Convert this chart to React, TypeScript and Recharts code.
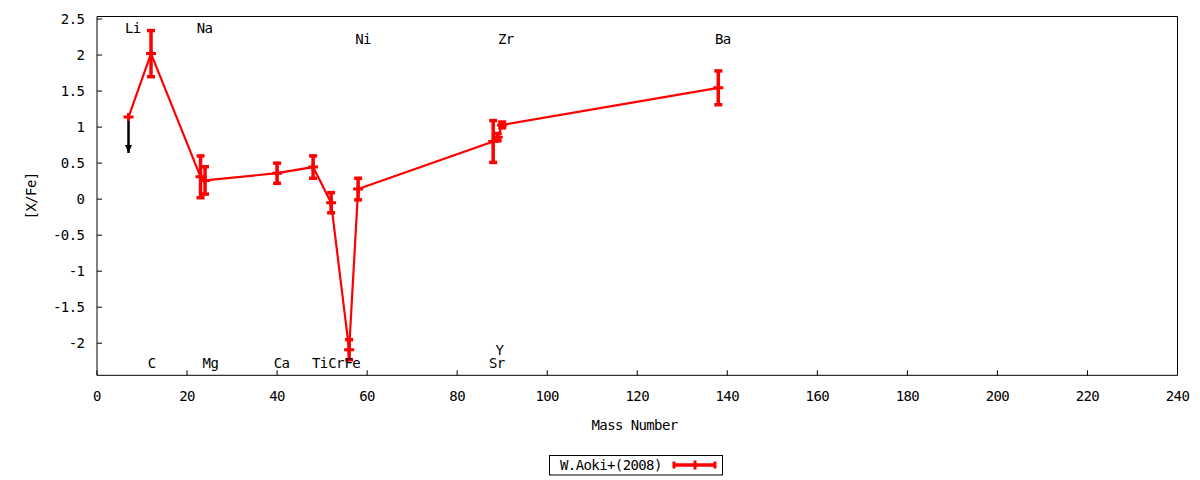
import React from 'react';
import { ComposedChart, Line, Scatter, XAxis, YAxis, ErrorBar, Legend } from 'recharts';

// ---- data ----
const massNumbers = [7, 12, 23, 24, 40, 48, 52, 56, 58, 88, 89, 90, 138];
const abundances = [1.14, 2.02, 0.31, 0.26, 0.36, 0.445, -0.05, -2.09, 0.14, 0.8, 0.86, 1.03, 1.545];
const abundanceErrors = [0, 0.32, 0.29, 0.19, 0.14, 0.155, 0.14, 0.14, 0.15, 0.29, 0.05, 0.04, 0.235];

const liLimitMass = [7, 7];
const liLimitValues = [1.14, 0.64];

const elementNames = ['Li', 'Na', 'Ni', 'Zr', 'Ba', 'C', 'Mg', 'Ca', 'Ti', 'Cr', 'Fe', 'Sr', 'Y'];
const elementLabelX = [7.95, 23.9, 59.1, 90.8, 139.0, 12.15, 25.2, 41.0, 49.5, 53.1, 56.7, 88.8, 89.4];
const elementLabelY = [2.31, 2.31, 2.16, 2.16, 2.16, -2.35, -2.35, -2.35, -2.35, -2.35, -2.35, -2.35, -2.16];

const xTicks = [0, 20, 40, 60, 80, 100, 120, 140, 160, 180, 200, 220, 240];
const yTicks = [-2, -1.5, -1, -0.5, 0, 0.5, 1, 1.5, 2, 2.5];
const xDomain = [0, 240];
const yDomain = [-2.445, 2.535];

const seriesName = 'W.Aoki+(2008)';
const xTitle = 'Mass Number';
const yTitle = '[X/Fe]';

// ---- derived tables ----
const mainData = massNumbers.map((x, i) => ({ x, y: abundances[i], err: abundanceErrors[i] }));
const arrowData = liLimitMass.map((x, i) => ({ x, y: liLimitValues[i] }));
const labelData = elementNames.map((name, i) => ({ name, x: elementLabelX[i], y: elementLabelY[i] }));

const FONT = '"DejaVu Sans Mono", monospace';
const RED = '#ff0000';
const tickStyle = { fill: '#000', fontSize: 14, fontFamily: FONT };

const PlusDot = (p: any) => {
  const { cx, cy, index } = p;
  if (cx == null || cy == null) return <g key={`pd-${index}`} />;
  return (
    <g key={`pd-${index}`}>
      <line x1={cx - 5} y1={cy} x2={cx + 5} y2={cy} stroke={RED} strokeWidth={3} />
      <line x1={cx} y1={cy - 4} x2={cx} y2={cy + 4} stroke={RED} strokeWidth={3} />
    </g>
  );
};

const ArrowDot = (p: any) => {
  const { cx, cy, index } = p;
  if (index !== 1 || cx == null) return <g key={`ad-${index}`} />;
  return (
    <polygon
      key={`ad-${index}`}
      points={`${cx - 3.5},${cy - 8} ${cx + 3.5},${cy - 8} ${cx},${cy}`}
      fill="#000"
    />
  );
};

const LabelText = (p: any) => (
  <text
    x={p.cx}
    y={p.cy}
    textAnchor="middle"
    fontSize={14}
    fontFamily={FONT}
    fill="#000"
  >
    {p.payload.name}
  </text>
);

const XTitle = (p: any) => {
  const vb = p.viewBox || {};
  return (
    <text x={vb.x + vb.width / 2 - 2.7} y={vb.y + 54.7} textAnchor="middle" fontSize={14} fontFamily={FONT} fill="#000">
      {xTitle}
    </text>
  );
};

const YTitle = (p: any) => {
  const vb = p.viewBox || {};
  const cx = vb.x + vb.width - 65.7;
  const cy = vb.y + vb.height / 2;
  return (
    <text
      x={cx}
      y={cy}
      transform={`rotate(-90 ${cx} ${cy})`}
      textAnchor="middle"
      dominantBaseline="central"
      fontSize={14}
      fontFamily={FONT}
      fill="#000"
    >
      {yTitle}
    </text>
  );
};

const renderLegend = () => (
  <svg width={175} height={21} style={{ display: 'block' }}>
    <rect x={0.5} y={0.5} width={173} height={19.5} fill="#fff" stroke="#000" strokeWidth={1} />
    <text x={11} y={15} fontSize={14} fontFamily={FONT} fill="#000" style={{ letterSpacing: '-0.6px' }}>
      {seriesName}
    </text>
    <line x1={125} y1={10} x2={166} y2={10} stroke={RED} strokeWidth={3.5} />
    <line x1={125} y1={6.5} x2={125} y2={13.5} stroke={RED} strokeWidth={3} />
    <line x1={166} y1={6.5} x2={166} y2={13.5} stroke={RED} strokeWidth={3} />
    <line x1={146} y1={5.5} x2={146} y2={14.5} stroke={RED} strokeWidth={3} />
  </svg>
);

export default function App() {
  return (
    <div
      style={{
        position: 'absolute',
        left: 0,
        top: 0,
        width: 1200,
        height: 480,
        background: '#fff',
        fontFamily: FONT,
        letterSpacing: '-0.6px',
      }}
    >
      <ComposedChart width={1200} height={480} margin={{ top: 15.5, right: 21.5, bottom: 74.7, left: 37 }}>
        <XAxis
          xAxisId="b"
          type="number"
          dataKey="x"
          domain={xDomain}
          ticks={xTicks}
          interval={0}
          allowDataOverflow
          orientation="bottom"
          height={30}
          tickSize={-5}
          tickMargin={20.5}
          stroke="#000"
          tick={tickStyle}
          label={{ content: XTitle }}
        />
        <XAxis
          xAxisId="t"
          type="number"
          dataKey="x"
          domain={xDomain}
          ticks={xTicks}
          interval={0}
          allowDataOverflow
          orientation="top"
          height={1}
          tickSize={-5}
          tick={false}
          stroke="#000"
        />
        <YAxis
          yAxisId="l"
          type="number"
          domain={yDomain}
          ticks={yTicks}
          interval={0}
          allowDataOverflow
          orientation="left"
          width={60}
          tickSize={-5}
          tickMargin={17.7}
          stroke="#000"
          tick={tickStyle}
          label={{ content: YTitle }}
        />
        <YAxis
          yAxisId="r"
          type="number"
          domain={yDomain}
          ticks={yTicks}
          interval={0}
          allowDataOverflow
          orientation="right"
          width={1}
          tickSize={-5}
          tick={false}
          stroke="#000"
        />
        <Line
          xAxisId="t"
          yAxisId="r"
          data={mainData}
          dataKey="y"
          stroke="none"
          dot={false}
          activeDot={false}
          legendType="none"
          isAnimationActive={false}
        />
        <Line
          xAxisId="b"
          yAxisId="l"
          data={arrowData}
          dataKey="y"
          stroke="#000"
          strokeWidth={2.5}
          dot={ArrowDot}
          activeDot={false}
          legendType="none"
          isAnimationActive={false}
        />
        <Line
          xAxisId="b"
          yAxisId="l"
          data={mainData}
          dataKey="y"
          name={seriesName}
          stroke={RED}
          strokeWidth={2.2}
          dot={PlusDot}
          activeDot={false}
          isAnimationActive={false}
        >
          <ErrorBar dataKey="err" direction="y" width={4} stroke={RED} strokeWidth={3.5} isAnimationActive={false} />
        </Line>
        <Scatter
          xAxisId="b"
          yAxisId="l"
          data={labelData}
          dataKey="y"
          shape={LabelText}
          legendType="none"
          isAnimationActive={false}
        />
        <Legend
          layout="vertical"
          align="center"
          verticalAlign="middle"
          wrapperStyle={{ left: 549, top: 455, width: 175, height: 21 }}
          content={renderLegend}
        />
      </ComposedChart>
    </div>
  );
}
